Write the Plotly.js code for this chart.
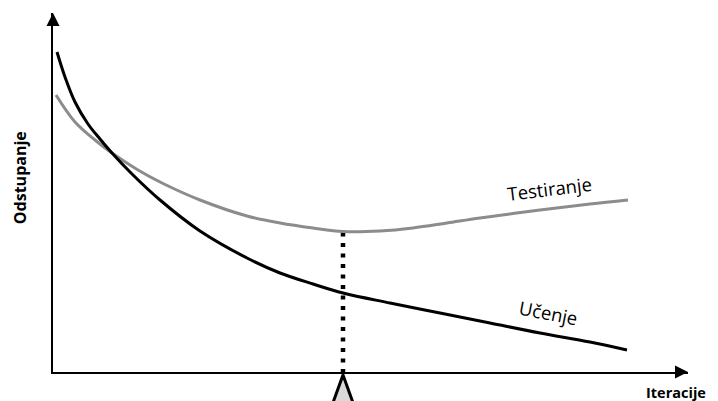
<!DOCTYPE html>
<html>
<head>
<meta charset="utf-8">
<script src="https://cdn.plot.ly/plotly-3.0.1.min.js"></script>
<style>html,body{margin:0;padding:0;background:#fff;}#chart{width:718px;height:401px;}</style>
</head>
<body>
<div id="chart"></div>
<script>
// Iterations (generic units) and error values
const trainX = [4, 12, 22, 35, 47, 59, 79, 107, 147, 194, 227, 260, 290, 337, 387, 437, 487, 537, 574];
const trainY = [321, 296, 271, 249, 234, 220, 199, 173, 142, 115, 100, 89, 80, 70, 60, 50, 40, 31, 23];
const testX  = [3, 22, 42, 59, 85, 109, 147, 194, 227, 260, 290, 327, 360, 394, 427, 487, 537, 575];
const testY  = [278, 251, 233, 220, 203, 190, 173, 157, 150, 145, 141.5, 142, 145, 150, 155, 163, 169, 173];
const trainName = 'Učenje';
const testName = 'Testiranje';
const xTitle = 'Iteracije';
const yTitle = 'Odstupanje';

// optimum = minimum of the test curve
let iMin = 0;
for (let i = 1; i < testY.length; i++) if (testY[i] < testY[iMin]) iMin = i;
const xOpt = testX[iMin], yOpt = testY[iMin];

const xRange = [0, 635], yRange = [1, 360];
const fontFam = '"Open Sans", Lato, sans-serif';

const traces = [
  {x: [xOpt, xOpt], y: [0, yOpt], mode: 'lines', line: {color: '#000', width: 4.5, dash: '4px,6.5px'}, hoverinfo: 'skip'},
  {x: testX, y: testY, mode: 'lines', name: testName, line: {color: '#8c8c8c', width: 3, shape: 'spline', smoothing: 1}},
  {x: trainX, y: trainY, mode: 'lines', name: trainName, line: {color: '#000', width: 3, shape: 'spline', smoothing: 1}}
];

// optimum marker (triangle under the x axis), placed from the data optimum
const px = (xOpt - xRange[0]) / (xRange[1] - xRange[0]);
const plotW = 718 - 53 - 30, plotH = 401 - 13 - 29;
const hw = 10 / plotW;
const triPath = 'M ' + px + ' ' + (-3 / plotH) + ' L ' + (px + hw * 1.7) + ' ' + (-50 / plotH) +
                ' L ' + (px - hw * 1.7) + ' ' + (-50 / plotH) + ' Z';

const layout = {
  width: 718, height: 401,
  margin: {l: 53, r: 30, t: 13, b: 29},
  paper_bgcolor: '#fff', plot_bgcolor: '#fff',
  showlegend: false,
  xaxis: {range: xRange, showgrid: false, zeroline: false, showticklabels: false, ticks: '',
          showline: true, linecolor: '#000', linewidth: 2, fixedrange: true},
  yaxis: {range: yRange, showgrid: false, zeroline: false, showticklabels: false, ticks: '',
          showline: true, linecolor: '#000', linewidth: 2, fixedrange: true},
  shapes: [
    {type: 'path', xref: 'paper', yref: 'paper', path: triPath,
     fillcolor: '#d9d9d9', line: {color: '#000', width: 3}, layer: 'above'}
  ],
  annotations: [
    // axis arrows
    {xref: 'paper', yref: 'paper', x: 0, y: 1, ax: 0, ay: 14,
     showarrow: true, arrowhead: 2, arrowsize: 1.3, arrowwidth: 2, arrowcolor: '#000', text: ''},
    {xref: 'paper', yref: 'paper', x: 1, y: 0, ax: -14, ay: 0,
     showarrow: true, arrowhead: 2, arrowsize: 1.3, arrowwidth: 2, arrowcolor: '#000', text: ''},
    // axis titles
    {xref: 'paper', yref: 'paper', x: -33 / plotW, y: 0.54, xanchor: 'center', yanchor: 'middle',
     showarrow: false, textangle: -90,
     text: '<b>' + yTitle + '</b>', font: {family: fontFam, size: 16, color: '#000'}},
    {xref: 'paper', yref: 'paper', x: 623 / plotW, y: -20 / plotH, xanchor: 'center', yanchor: 'middle',
     showarrow: false,
     text: '<b>' + xTitle + '</b>', font: {family: fontFam, size: 14.5, color: '#000'}},
    // curve labels
    {xref: 'x', yref: 'y', x: 496, y: 185, xanchor: 'center', yanchor: 'middle', showarrow: false, textangle: -7,
     text: testName, font: {family: fontFam, size: 18.5, color: '#000'}},
    {xref: 'x', yref: 'y', x: 495, y: 61, xanchor: 'center', yanchor: 'middle', showarrow: false, textangle: 11,
     text: trainName, font: {family: fontFam, size: 18.5, color: '#000'}}
  ]
};

Plotly.newPlot('chart', traces, layout, {staticPlot: true, displayModeBar: false});
</script>
</body>
</html>
